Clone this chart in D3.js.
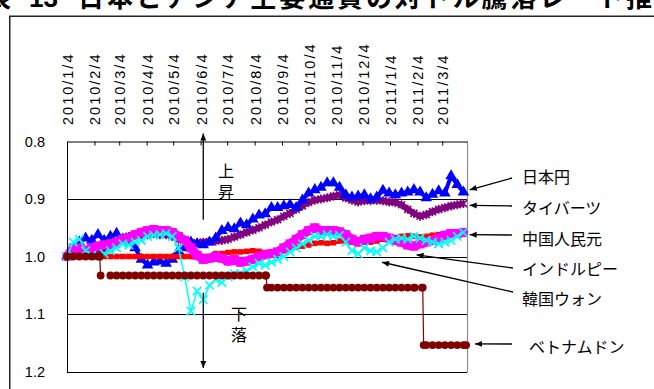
<!DOCTYPE html>
<html lang="ja">
<head>
<meta charset="utf-8">
<title>日本とアジア主要通貨の対ドル騰落レート推移</title>
<script src="https://cdn.jsdelivr.net/npm/d3@7/dist/d3.min.js"></script>
<style>
  html, body { margin: 0; padding: 0; background: #fff; }
  svg { display: block; }
</style>
</head>
<body>
<svg id="chart" width="654" height="389"></svg>
<script>
// Weekly observation dates (Mondays), 2010/1/4 – 2011/3/28
const weeks = d3.timeMonday.range(new Date(2010, 0, 4), new Date(2011, 3, 1));

// Rate against the US dollar, indexed to 2010/1/4 = 1.0 (smaller = stronger currency)
const jpy = [1.000,0.985,0.975,0.968,0.972,0.962,0.972,0.965,0.960,0.970,
             0.975,0.985,1.005,1.015,1.010,1.008,1.012,1.005,0.990,0.985,
             0.975,0.978,0.980,0.975,0.968,0.955,0.950,0.952,0.942,0.945,
             0.935,0.928,0.926,0.915,0.915,0.912,0.910,0.915,0.902,0.890,
             0.884,0.880,0.872,0.872,0.880,0.893,0.897,0.895,0.893,0.900,
             0.897,0.885,0.890,0.893,0.890,0.888,0.884,0.888,0.898,0.892,
             0.886,0.890,0.860,0.875,0.888];

const thb = [1.000,0.995,0.992,0.993,0.995,0.993,0.990,0.985,0.978,0.970,
             0.965,0.962,0.962,0.962,0.960,0.962,0.962,0.965,0.970,0.975,
             0.978,0.976,0.975,0.974,0.973,0.972,0.970,0.966,0.962,0.958,
             0.954,0.950,0.945,0.940,0.936,0.930,0.925,0.918,0.912,0.906,
             0.902,0.900,0.898,0.895,0.893,0.898,0.902,0.905,0.903,0.903,
             0.902,0.903,0.905,0.906,0.910,0.918,0.925,0.930,0.927,0.922,
             0.918,0.915,0.912,0.910,0.908];

const cny = [1.000,1.000,1.000,1.000,1.000,1.000,1.000,1.000,1.000,1.000,
             1.000,1.000,1.000,1.000,1.000,1.000,1.000,1.000,1.000,1.000,
             1.000,1.000,1.000,1.000,0.995,0.995,0.993,0.992,0.992,0.991,
             0.990,0.991,0.993,0.993,0.992,0.990,0.987,0.984,0.982,0.980,
             0.977,0.976,0.977,0.976,0.973,0.974,0.975,0.976,0.975,0.975,
             0.973,0.970,0.969,0.967,0.965,0.964,0.965,0.966,0.965,0.963,
             0.962,0.961,0.962,0.961,0.960];

const inr = [1.000,0.985,0.985,0.990,0.985,0.982,0.980,0.978,0.975,0.970,
             0.968,0.962,0.958,0.955,0.953,0.955,0.955,0.958,0.965,0.972,
             0.985,0.998,1.005,1.003,1.000,1.003,1.008,1.005,1.010,1.008,
             1.005,1.000,0.997,0.995,0.992,0.985,0.978,0.970,0.962,0.955,
             0.950,0.955,0.955,0.955,0.957,0.962,0.970,0.975,0.970,0.968,
             0.965,0.965,0.968,0.972,0.975,0.980,0.982,0.978,0.975,0.972,
             0.968,0.963,0.960,0.960,0.958];

const krw = [1.000,0.975,0.970,0.990,0.998,1.000,0.995,0.990,0.985,0.978,
             0.980,0.975,0.972,0.965,0.963,0.962,0.960,0.965,0.985,1.035,
             1.095,1.060,1.075,1.050,1.040,1.045,1.035,1.030,1.030,1.025,
             1.018,1.012,1.015,1.010,1.005,1.000,0.992,0.985,0.978,0.972,
             0.965,0.965,0.962,0.965,0.963,0.975,0.990,0.995,0.985,0.990,
             0.992,0.985,0.975,0.970,0.968,0.970,0.965,0.968,0.972,0.975,
             0.978,0.975,0.972,0.965,0.958];

// Vietnamese dong: weekly readings (null = market closed for Tet) ...
const vndWeekly = [1.000,1.000,1.000,1.000,1.000,1.000,null,1.033,1.033,1.033,
                   1.033,1.033,1.033,1.033,1.033,1.033,1.033,1.033,1.033,1.033,
                   1.033,1.033,1.033,1.033,1.033,1.033,1.033,1.033,1.033,1.033,
                   1.033,1.033,1.033,1.054,1.054,1.054,1.054,1.054,1.054,1.054,
                   1.054,1.054,1.054,1.054,1.054,1.054,1.054,1.054,1.054,1.054,
                   1.054,1.054,1.054,1.054,1.054,1.054,1.054,null,1.154,1.154,
                   1.154,1.154,1.154,1.154,1.154];
// ... plus the days around each devaluation
const vndExtra = [
  ["2010-02-10", 1.000], ["2010-02-11", 1.033],
  ["2010-08-17", 1.033], ["2010-08-18", 1.054],
  ["2011-02-01", 1.054], ["2011-02-09", 1.054], ["2011-02-10", 1.054],
  ["2011-02-11", 1.154], ["2011-03-31", 1.154]
];

const tickDates = d3.timeMonth.range(new Date(2010, 0, 1), new Date(2011, 3, 1))
  .map(m => d3.timeDay.offset(m, 3));           // the 4th of every month
const yTicks = [0.8, 0.9, 1.0, 1.1, 1.2];

// ---------------------------------------------------------------------------
const parseDay = d3.timeParse("%Y-%m-%d");
const svg = d3.select("#chart");
const plot = { left: 67, right: 467, top: 141.5, bottom: 371.5 };
const NUM = '"Liberation Sans", Arial, sans-serif';
const JP = '"Noto Sans CJK JP", "Noto Sans", sans-serif';

const x = d3.scaleTime()
  .domain([new Date(2010, 0, 4), new Date(2011, 3, 1)])
  .range([plot.left, plot.right]);
const y = d3.scaleLinear().domain([0.8, 1.2]).range([plot.top, plot.bottom]);

// outer frame and heading
svg.append("rect")
  .attr("x", 9.75).attr("y", 16.25).attr("width", 700).attr("height", 400)
  .attr("fill", "none").attr("stroke", "#222").attr("stroke-width", 1.5);

const head = svg.append("g").attr("font-family", JP).attr("font-weight", 700)
  .attr("font-size", 26).attr("fill", "#000");
head.append("text").attr("x", -41).attr("y", 7).text("図表");
head.append("text").attr("x", 29).attr("y", 7).attr("font-family", NUM).text("13");
head.append("text").attr("x", 78).attr("y", 7).style("letter-spacing", "2.9px")
  .text("日本とアジア主要通貨の対ドル騰落レート推移");

// horizontal gridlines and plot border
const snap = v => Math.round(v) + 0.5;
svg.append("g").selectAll("line").data(yTicks.slice(1)).join("line")
  .attr("x1", plot.left).attr("x2", plot.right)
  .attr("y1", d => snap(y(d))).attr("y2", d => snap(y(d)))
  .attr("stroke", "#000").attr("stroke-width", 1);
svg.append("line")
  .attr("x1", snap(plot.right)).attr("x2", snap(plot.right))
  .attr("y1", plot.top).attr("y2", snap(y(1.2)))
  .attr("stroke", "#8c8c8c").attr("stroke-width", 1.2);

// ---------------------------------------------------------------------------
// series
const markers = {
  star: "M-3.5,-3.5L3.5,3.5M-3.5,3.5L3.5,-3.5M0,-4.5L0,4.5",
  tri: d3.symbol(d3.symbolTriangle, 58)(),
  sqS: "M-2.8,-2.8H2.8V2.8H-2.8Z",
  sqL: "M-4.5,-4.5H4.5V4.5H-4.5Z",
  x: "M-4.2,-4.2L4.2,4.2M-4.2,4.2L4.2,-4.2"
};
const series = [
  { name: "タイバーツ",   values: thb, color: "#800080", width: 6, marker: "star", stroke: true },
  { name: "日本円",       values: jpy, color: "#0000FF", width: 4, marker: "tri" },
  { name: "中国人民元",   values: cny, color: "#FF0000", width: 4, marker: "sqS" },
  { name: "インドルピー", values: inr, color: "#FF00FF", width: 9, marker: "sqL" },
  { name: "韓国ウォン",   values: krw, color: "#00FFFF", width: 1.5, marker: "x", stroke: true }
];

const line = d3.line()
  .defined(d => d.value != null)
  .x(d => x(d.date)).y(d => y(d.value));

const seriesG = svg.append("g");
series.forEach(s => {
  const pts = weeks.map((d, i) => ({ date: d, value: s.values[i] }));
  const g = seriesG.append("g").attr("class", "series");
  g.append("path").datum(pts).attr("d", line)
    .attr("fill", "none").attr("stroke", s.color).attr("stroke-width", s.width)
    .attr("stroke-linejoin", "round");
  g.selectAll("path.m").data(pts).join("path").attr("class", "m")
    .attr("d", markers[s.marker])
    .attr("transform", d => `translate(${x(d.date)},${y(d.value)})`)
    .attr("fill", s.stroke ? "none" : s.color)
    .attr("stroke", s.stroke ? s.color : "none")
    .attr("stroke-width", s.stroke ? 1.7 : 0);
});

// Vietnamese dong: thin line with round markers, broken across market holidays
const vnd = weeks.map((d, i) => ({ date: d, value: vndWeekly[i] }))
  .concat(vndExtra.map(([s, v]) => ({ date: parseDay(s), value: v })))
  .sort((a, b) => a.date - b.date);
const vg = seriesG.append("g");
vg.append("path").datum(vnd).attr("d", line)
  .attr("fill", "none").attr("stroke", "#800000").attr("stroke-width", 1.2);
vg.selectAll("circle").data(vnd.filter(d => d.value != null)).join("circle")
  .attr("cx", d => x(d.date)).attr("cy", d => y(d.value)).attr("r", 3.9)
  .attr("fill", "#800000");

// ---------------------------------------------------------------------------
// axes: dates along the top (reading upwards), index on the left (reversed)
svg.append("g")
  .attr("transform", `translate(0,${plot.top})`)
  .call(d3.axisTop(x).tickValues(tickDates).tickFormat(d3.timeFormat("%Y/%-m/%-d"))
    .tickSizeInner(-4).tickSizeOuter(0))
  .call(g => g.select(".domain").attr("stroke", "#000"))
  .call(g => g.selectAll(".tick line").attr("stroke", "#000"))
  .call(g => g.selectAll("text")
    .attr("transform", "rotate(-90)")
    .attr("x", 16.5).attr("y", 5.5).attr("dy", null)
    .attr("text-anchor", "start")
    .attr("font-family", NUM).attr("font-size", 14.5)
    .style("letter-spacing", "2px").attr("fill", "#000"));

svg.append("g")
  .attr("transform", `translate(${plot.left},0)`)
  .call(d3.axisLeft(y).tickValues(yTicks).tickFormat(d3.format(".1f"))
    .tickSize(0).tickPadding(22))
  .call(g => g.select(".domain").attr("stroke", "#000"))
  .call(g => g.selectAll("text").attr("font-family", NUM).attr("font-size", 14.5)
    .attr("fill", "#000"));

// ---------------------------------------------------------------------------
// annotations
const defs = svg.append("defs");
defs.append("marker").attr("id", "head")
  .attr("viewBox", "0 0 10 10").attr("refX", 10).attr("refY", 5)
  .attr("markerUnits", "userSpaceOnUse").attr("markerWidth", 8).attr("markerHeight", 7)
  .attr("orient", "auto")
  .append("path").attr("d", "M0,0.8L10,5L0,9.2Z").attr("fill", "#000");

const ann = svg.append("g").attr("font-family", JP).attr("font-size", 16).attr("fill", "#000");
const arrowAt = (x1, y1, x2, y2) => ann.append("line")
  .attr("x1", x1).attr("y1", y1).attr("x2", x2).attr("y2", y2)
  .attr("stroke", "#000").attr("stroke-width", 1.3).attr("marker-end", "url(#head)");

// direction hints on the index axis, each word set vertically
const hintDay = parseDay("2010-06-07");
arrowAt(x(hintDay), y(0.936), x(hintDay), y(0.786));
arrowAt(x(hintDay), y(1.063), x(hintDay), y(1.194));
const vertical = (cx, top, word) => ann.append("text")
  .attr("x", cx).attr("y", top)
  .style("writing-mode", "vertical-rl")
  .style("letter-spacing", "5px")
  .text(word);
vertical(226, 163, "上昇");
vertical(239, 306, "下落");

// currency labels with leader arrows
const callouts = [
  { text: "日本円",       lx: 522, ly: 183, from: [512, 178], tip: ["2011-04-04", 0.884] },
  { text: "タイバーツ",   lx: 522, ly: 214, from: [512, 206], tip: ["2011-04-04", 0.911] },
  { text: "中国人民元",   lx: 522, ly: 245, from: [512, 235], tip: ["2011-04-04", 0.962] },
  { text: "インドルピー", lx: 522, ly: 275, from: [513, 268], tip: ["2011-02-03", 0.997] },
  { text: "韓国ウォン",   lx: 522, ly: 305, from: [513, 292], tip: ["2010-12-26", 1.010] },
  { text: "ベトナムドン", lx: 529, ly: 353, from: [512, 344], tip: ["2011-04-10", 1.152] }
];
callouts.forEach(c => {
  arrowAt(c.from[0], c.from[1], x(parseDay(c.tip[0])), y(c.tip[1]));
  ann.append("text").attr("x", c.lx).attr("y", c.ly).text(c.text);
});
</script>
</body>
</html>
